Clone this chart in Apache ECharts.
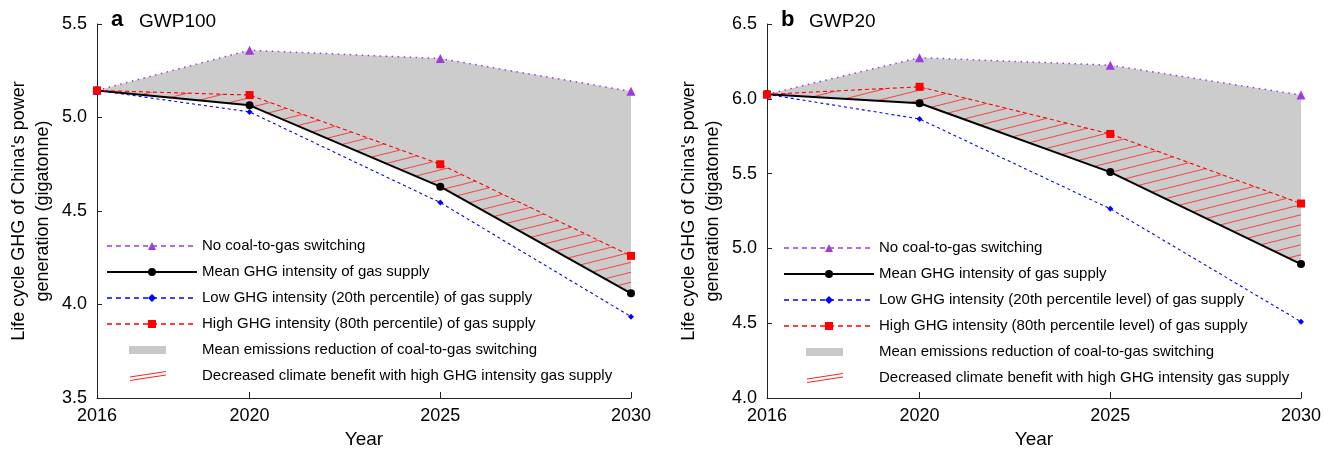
<!DOCTYPE html>
<html>
<head>
<meta charset="utf-8">
<title>Coal-to-gas switching GHG</title>
<script src="https://cdn.jsdelivr.net/npm/echarts@6/dist/echarts.min.js"></script>
<style>
  html, body { margin: 0; padding: 0; background: #fff; }
  #chart { width: 1333px; height: 454px; }
</style>
</head>
<body>
<div id="chart"></div>
<script>
// years on the x axis
const years = [2016, 2020, 2025, 2030]

// panel a, GWP100 (gigatonne)
const gwp100NoSwitch = [5.145, 5.36, 5.315, 5.14]
const gwp100Mean = [5.145, 5.065, 4.63, 4.06]
const gwp100Low = [5.145, 5.03, 4.545, 3.935]
const gwp100High = [5.145, 5.12, 4.75, 4.26]

// panel b, GWP20 (gigatonne)
const gwp20NoSwitch = [6.03, 6.275, 6.225, 6.025]
const gwp20Mean = [6.03, 5.97, 5.51, 4.895]
const gwp20Low = [6.03, 5.865, 5.265, 4.51]
const gwp20High = [6.03, 6.08, 5.765, 5.30]

const NAME_NO = 'No coal-to-gas switching'
const NAME_MEAN = 'Mean GHG intensity of gas supply'
const NAME_LOW_A = 'Low GHG intensity (20th percentile) of gas supply'
const NAME_HIGH_A = 'High GHG intensity (80th percentile) of gas supply'
const NAME_LOW_B = 'Low GHG intensity (20th percentile level) of gas supply'
const NAME_HIGH_B = 'High GHG intensity (80th percentile level) of gas supply'
const NAME_GRAY = 'Mean emissions reduction of coal-to-gas switching'
const NAME_HATCH = 'Decreased climate benefit with high GHG intensity gas supply'

const FONT = 'Liberation Sans, Arial, Helvetica, sans-serif'
const PURPLE = '#9d3be0'

// red hatch tile
const hatch = document.createElement('canvas')
hatch.width = 40
hatch.height = 10
;(function () {
  const ctx = hatch.getContext('2d')
  ctx.strokeStyle = 'rgba(255, 40, 40, 0.85)'
  ctx.lineWidth = 1
  for (let k = -1; k <= 1; k++) {
    ctx.beginPath()
    ctx.moveTo(0, 10 + k * 10)
    ctx.lineTo(40, 0 + k * 10)
    ctx.stroke()
  }
})()

function makeIcon (draw) {
  const c = document.createElement('canvas')
  c.width = 90
  c.height = 10
  draw(c.getContext('2d'))
  return 'image://' + c.toDataURL()
}
const grayIcon = makeIcon(ctx => {
  ctx.fillStyle = '#c8c8c8'
  ctx.fillRect(22, 1, 37, 8)
})
const hatchIcon = makeIcon(ctx => {
  ctx.strokeStyle = '#ff2020'
  ctx.lineWidth = 1
  ctx.beginPath()
  ctx.moveTo(23, 6)
  ctx.lineTo(59, 0.5)
  ctx.moveTo(23, 9.5)
  ctx.lineTo(59, 4)
  ctx.stroke()
})

function band (gridIdx, name, upper, lower, fill) {
  return {
    name: name,
    type: 'custom',
    xAxisIndex: gridIdx,
    yAxisIndex: gridIdx,
    silent: true,
    z: 1,
    data: years.map((x, i) => [x, upper[i], lower[i]]),
    encode: { x: 0, y: [1, 2] },
    renderItem: function (params, api) {
      if (params.dataIndex !== 0) return
      const pts = []
      years.forEach((x, i) => pts.push(api.coord([x, upper[i]])))
      for (let i = years.length - 1; i >= 0; i--) pts.push(api.coord([years[i], lower[i]]))
      return { type: 'polygon', shape: { points: pts }, style: { fill: fill } }
    }
  }
}

function line (gridIdx, name, values, color, width, dash, symbol, size) {
  return {
    name: name,
    type: 'line',
    xAxisIndex: gridIdx,
    yAxisIndex: gridIdx,
    z: 3,
    data: years.map((x, i) => [x, values[i]]),
    symbol: symbol,
    symbolSize: size,
    showSymbol: true,
    lineStyle: { color: color, width: width, type: dash },
    itemStyle: { color: color }
  }
}

function panelSeries (idx, noSw, mean, low, high, lowName, highName) {
  return [
    band(idx, NAME_GRAY, noSw, mean, '#cccccc'),
    band(idx, NAME_HATCH, high, mean, { image: hatch, repeat: 'repeat' }),
    line(idx, NAME_NO, noSw, PURPLE, 1.5, [1.5, 4.5], 'triangle', 9),
    line(idx, lowName, low, '#0000ff', 1.1, [3, 3], 'diamond', 6),
    line(idx, NAME_MEAN, mean, '#000000', 2, 'solid', 'circle', 8),
    line(idx, highName, high, '#ff0000', 1.1, [4, 3], 'rect', 8)
  ]
}

function legend (left, top, lowName, highName) {
  const dashed = { type: [5, 4], width: 1.5 }
  return {
    orient: 'vertical',
    left: left,
    top: top,
    itemWidth: 90,
    itemHeight: 10,
    itemGap: 8,
    selectedMode: false,
    lineStyle: dashed,
    textStyle: { fontSize: 15, lineHeight: 18, color: '#000', fontFamily: FONT },
    data: [
      { name: NAME_NO, lineStyle: dashed },
      { name: NAME_MEAN, lineStyle: { type: 'solid', width: 2 } },
      { name: lowName, lineStyle: dashed },
      { name: highName, lineStyle: dashed },
      { name: NAME_GRAY, icon: grayIcon },
      { name: NAME_HATCH, icon: hatchIcon }
    ]
  }
}

function xAxis (idx) {
  return {
    type: 'value',
    gridIndex: idx,
    min: 2016,
    max: 2030,
    name: 'Year',
    nameLocation: 'middle',
    nameGap: 32,
    nameTextStyle: { fontSize: 19, color: '#000', fontFamily: FONT },
    splitLine: { show: false },
    axisLine: { lineStyle: { color: '#222', width: 1 } },
    axisTick: { inside: true, length: 6, customValues: years, lineStyle: { color: '#222' } },
    axisLabel: {
      customValues: years,
      fontSize: 18,
      color: '#000',
      fontFamily: FONT,
      margin: 9,
      formatter: v => String(v)
    }
  }
}

function yAxis (idx, min, max) {
  return {
    type: 'value',
    gridIndex: idx,
    min: min,
    max: max,
    interval: 0.5,
    name: "Life cycle GHG of China's power\ngeneration (gigatonne)",
    nameLocation: 'middle',
    nameGap: 42,
    nameTextStyle: { fontSize: 18, lineHeight: 24, color: '#000', fontFamily: FONT },
    splitLine: { show: false },
    axisLine: { show: true, lineStyle: { color: '#222', width: 1 } },
    axisTick: { show: true, inside: true, length: 5, lineStyle: { color: '#222' } },
    axisLabel: {
      fontSize: 18,
      color: '#000',
      fontFamily: FONT,
      margin: 10,
      formatter: v => v.toFixed(1)
    }
  }
}

const option = {
  animation: false,
  backgroundColor: '#fff',
  textStyle: { fontFamily: FONT },
  title: [
    { text: 'a', left: 106, top: 4, textStyle: { fontSize: 22, fontWeight: 'bold', color: '#000', fontFamily: FONT } },
    { text: 'GWP100', left: 134, top: 7, textStyle: { fontSize: 19, fontWeight: 'normal', color: '#000', fontFamily: FONT } },
    { text: 'b', left: 776, top: 4, textStyle: { fontSize: 22, fontWeight: 'bold', color: '#000', fontFamily: FONT } },
    { text: 'GWP20', left: 804, top: 7, textStyle: { fontSize: 19, fontWeight: 'normal', color: '#000', fontFamily: FONT } }
  ],
  grid: [
    { left: 97, right: 702, top: 24, bottom: 53 },
    { left: 767, right: 32, top: 24, bottom: 53 }
  ],
  xAxis: [xAxis(0), xAxis(1)],
  yAxis: [yAxis(0, 3.5, 5.5), yAxis(1, 4.0, 6.5)],
  legend: [
    legend(101, 232, NAME_LOW_A, NAME_HIGH_A),
    legend(778, 234, NAME_LOW_B, NAME_HIGH_B)
  ],
  series: [
    ...panelSeries(0, gwp100NoSwitch, gwp100Mean, gwp100Low, gwp100High, NAME_LOW_A, NAME_HIGH_A),
    ...panelSeries(1, gwp20NoSwitch, gwp20Mean, gwp20Low, gwp20High, NAME_LOW_B, NAME_HIGH_B)
  ]
}

const chart = echarts.init(document.getElementById('chart'))
chart.setOption(option)
</script>
</body>
</html>
